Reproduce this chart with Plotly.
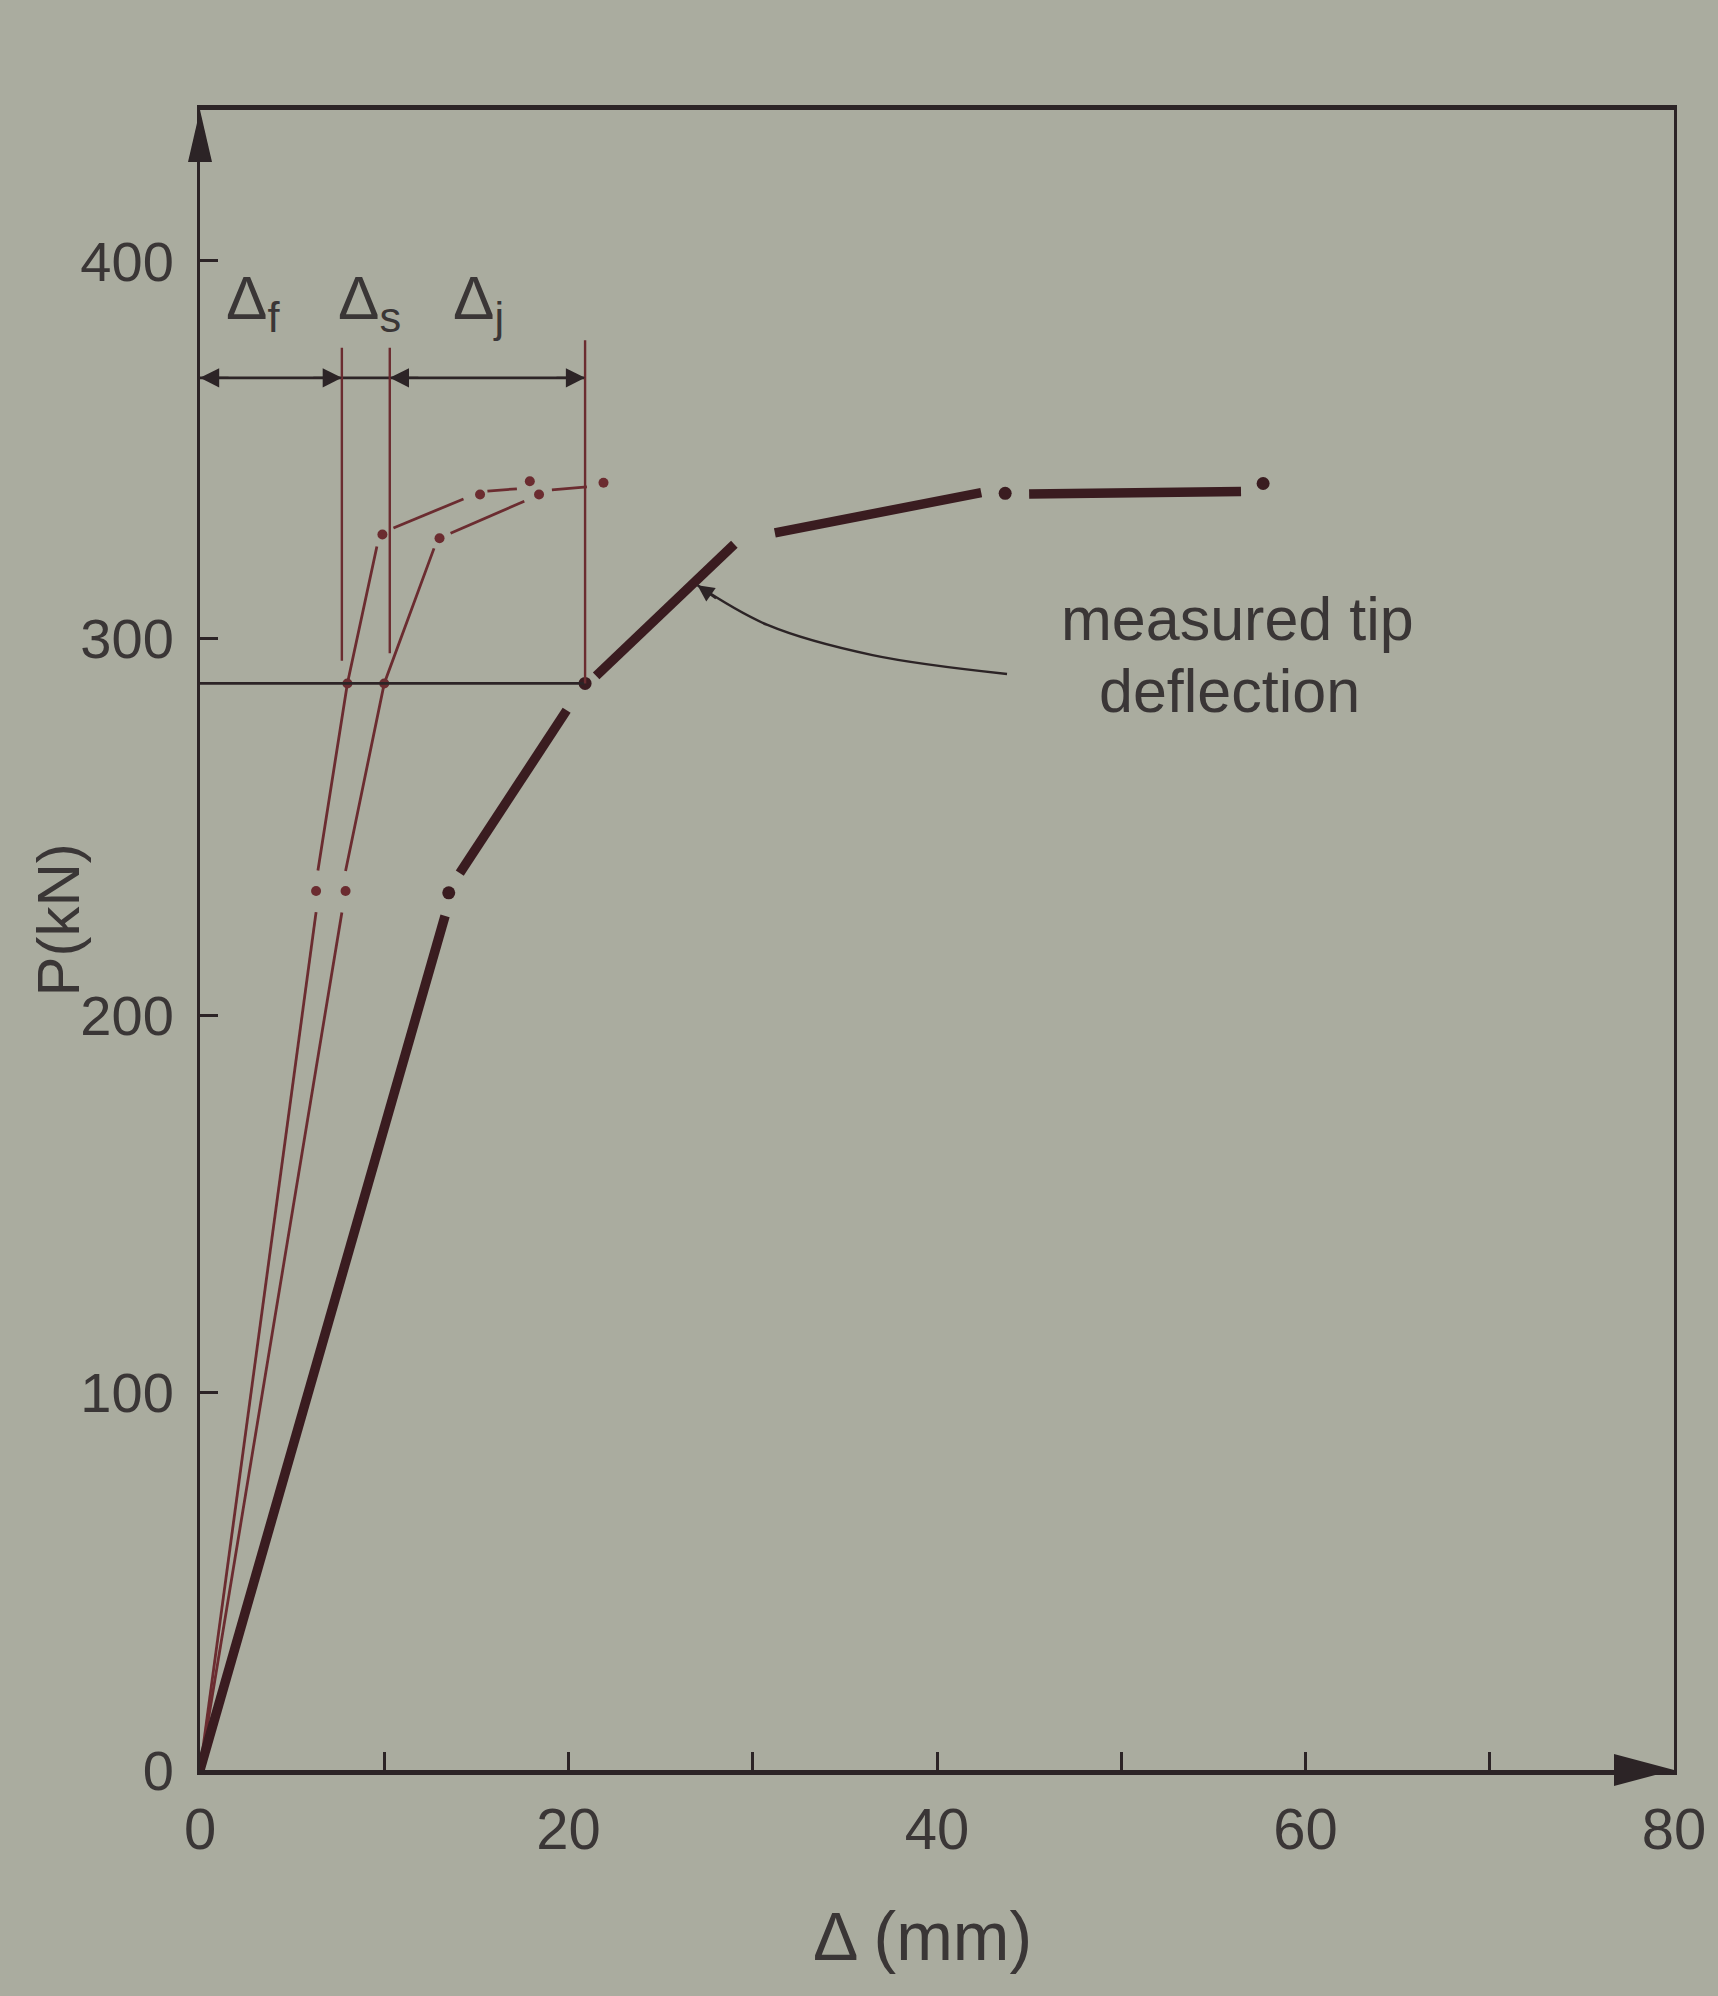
import plotly.graph_objects as go

# ---------------- data ----------------
X_RANGE = [0, 80]
Y_RANGE = [0, 440]
X_TICKS = [0, 10, 20, 30, 40, 50, 60, 70, 80]
X_TICK_TEXT = ["0", "", "20", "", "40", "", "60", "", "80"]
Y_TICKS = [0, 100, 200, 300, 400]
Y_TICK_TEXT = ["0", "100", "200", "300", "400"]

# measured tip deflection (thick broken line)
TIP_SEG_X = [[0, 13.3], [14.1, 19.9], [21.5, 29.0], [31.2, 42.4], [45.0, 56.5]]
TIP_SEG_Y = [[0, 226.4], [237.7, 280.9], [290.0, 324.9], [327.9, 338.6], [338.2, 338.9]]
TIP_DOT_X = [13.5, 20.9, 43.7, 57.7]
TIP_DOT_Y = [232.5, 288.0, 338.4, 341.0]

# flexural component curve (left thin line)
F_SEG_X = [[0, 6.3], [6.4, 8.0, 9.6], [10.5, 14.3], [15.6, 17.2]]
F_SEG_Y = [[0, 227.4], [238.4, 288.0, 324.3], [329.2, 336.9], [339.0, 339.6]]
F_DOT_X = [6.3, 8.0, 9.9, 15.2, 17.9]
F_DOT_Y = [233.0, 288.0, 327.5, 338.1, 341.6]

# flexural + shear curve (second thin line)
S_SEG_X = [[0, 7.7], [7.9, 10.0, 12.7], [13.6, 17.6], [19.1, 21.0]]
S_SEG_Y = [[0, 227.3], [238.3, 288.0, 323.8], [327.8, 336.3], [339.3, 340.1]]
S_DOT_X = [7.9, 10.0, 13.0, 18.4, 21.9]
S_DOT_Y = [233.0, 288.0, 326.5, 338.1, 341.2]

# dimensioning of the deflection components
REF_LOAD = 288.0
DIM_LOAD = 369.0
DIM_X = [0.0, 7.7, 10.3, 20.9]          # axis, Δf, Δf+Δs, Δf+Δs+Δj
DIM_LINE_BOTTOM = [None, 294.0, 296.0, 288.0]
DIM_LINE_TOP = [None, 377.0, 377.0, 379.0]
DIM_LABELS = ["Δ<sub>f</sub>", "Δ<sub>s</sub>", "Δ<sub>j</sub>"]
DIM_LABEL_X = [1.3, 7.4, 13.6]
DIM_LABEL_Y = 389.0

# leader of the "measured tip deflection" note
LEADER_X = [43.8, 36.5, 30.8, 27.0]
LEADER_Y = [290.5, 295.5, 303.5, 314.0]
NOTE_LINES = ["measured tip", "deflection"]
NOTE_X = [56.3, 55.9]
NOTE_Y = [305.0, 286.0]

# ---------------- style ----------------
BG = "#aaac9f"
INK = "#2c2426"
THICK = "#3a1c20"
THIN = "#6b2c30"
TEXT = "#3a3636"
FONT = "Liberation Sans"

fig = go.Figure()


def add_lines(seg_x, seg_y, color, width):
    for xs, ys in zip(seg_x, seg_y):
        fig.add_trace(go.Scatter(x=xs, y=ys, mode="lines",
                                 line=dict(color=color, width=width),
                                 showlegend=False, hoverinfo="skip"))


def add_dots(xs, ys, color, size):
    fig.add_trace(go.Scatter(x=xs, y=ys, mode="markers",
                             marker=dict(color=color, size=size),
                             showlegend=False, hoverinfo="skip", cliponaxis=False))


add_lines(F_SEG_X, F_SEG_Y, THIN, 2.8)
add_dots(F_DOT_X, F_DOT_Y, THIN, 10)
add_lines(S_SEG_X, S_SEG_Y, THIN, 2.8)
add_dots(S_DOT_X, S_DOT_Y, THIN, 10)
add_lines(TIP_SEG_X, TIP_SEG_Y, THICK, 9.5)
add_dots(TIP_DOT_X, TIP_DOT_Y, THICK, 13)

# horizontal reference load line
fig.add_trace(go.Scatter(x=[DIM_X[0], DIM_X[-1]], y=[REF_LOAD, REF_LOAD], mode="lines",
                         line=dict(color=INK, width=2.8), showlegend=False, hoverinfo="skip"))
# dimension line
fig.add_trace(go.Scatter(x=[DIM_X[0], DIM_X[-1]], y=[DIM_LOAD, DIM_LOAD], mode="lines",
                         line=dict(color=INK, width=2.8), showlegend=False, hoverinfo="skip"))
# extension lines
for xv, y0, y1 in zip(DIM_X[1:], DIM_LINE_BOTTOM[1:], DIM_LINE_TOP[1:]):
    fig.add_trace(go.Scatter(x=[xv, xv], y=[y0, y1], mode="lines",
                             line=dict(color=THIN, width=2.4), showlegend=False, hoverinfo="skip"))

# leader curve
fig.add_trace(go.Scatter(x=LEADER_X, y=LEADER_Y, mode="lines",
                         line=dict(color=INK, width=2.4, shape="spline", smoothing=1.0),
                         showlegend=False, hoverinfo="skip"))

annotations = []
# dimension arrowheads: pointing left at axis and Δs line, right at Δf and Δj lines
arrow_dirs = [30, -30, 30, -30]
for xv, d in zip(DIM_X, arrow_dirs):
    annotations.append(dict(x=xv, y=DIM_LOAD, ax=d, ay=0, text="", showarrow=True,
                            arrowhead=2, arrowsize=1.6, arrowwidth=2.4, arrowcolor=INK))
for lab, lx in zip(DIM_LABELS, DIM_LABEL_X):
    annotations.append(dict(x=lx, y=DIM_LABEL_Y, text=lab, showarrow=False,
                            xanchor="left", yanchor="middle",
                            font=dict(family=FONT, size=62, color=TEXT)))
# leader arrowhead
annotations.append(dict(x=LEADER_X[-1], y=LEADER_Y[-1], ax=20, ay=14, text="", showarrow=True,
                        arrowhead=2, arrowsize=1.5, arrowwidth=2.2, arrowcolor=INK))
for line, nx, ny in zip(NOTE_LINES, NOTE_X, NOTE_Y):
    annotations.append(dict(x=nx, y=ny, text=line, showarrow=False,
                            xanchor="center", yanchor="middle", borderpad=0,
                            font=dict(family=FONT, size=61, color=TEXT)))
# axis titles
annotations.append(dict(xref="paper", yref="paper", x=-0.096, y=0.512, text="P(kN)",
                        textangle=-90, showarrow=False, xanchor="center", yanchor="middle",
                        font=dict(family=FONT, size=60, color=TEXT)))
annotations.append(dict(xref="paper", yref="paper", x=0.49, y=-0.1, text="Δ (mm)",
                        showarrow=False, xanchor="center", yanchor="middle",
                        font=dict(family=FONT, size=68, color=TEXT)))

shapes = [
    # arrowhead on y axis (top end)
    dict(type="path", xref="paper", yref="paper", xsizemode="pixel", ysizemode="pixel",
         xanchor=0, yanchor=1, path="M 0 0 L -12 -52 L 12 -52 Z",
         fillcolor=INK, line=dict(width=0)),
    # arrowhead on x axis (right end)
    dict(type="path", xref="paper", yref="paper", xsizemode="pixel", ysizemode="pixel",
         xanchor=1, yanchor=0, path="M 0 0 L -60 16 L -60 -16 Z",
         fillcolor=INK, line=dict(width=0)),
]

fig.update_layout(
    width=1718, height=1996,
    margin=dict(l=200, r=38, t=110, b=226),
    paper_bgcolor=BG, plot_bgcolor=BG,
    font=dict(family=FONT, color=TEXT),
    showlegend=False,
    annotations=annotations,
    shapes=shapes,
    xaxis=dict(range=X_RANGE, tickvals=X_TICKS, ticktext=X_TICK_TEXT,
               ticks="inside", ticklen=18, tickwidth=3, tickcolor=INK,
               showline=True, linewidth=5, linecolor=INK, mirror=True,
               showgrid=False, zeroline=False, ticklabelstandoff=4,
               tickfont=dict(family=FONT, size=58, color=TEXT)),
    yaxis=dict(range=Y_RANGE, tickvals=Y_TICKS, ticktext=Y_TICK_TEXT,
               ticks="inside", ticklen=18, tickwidth=3, tickcolor=INK,
               showline=True, linewidth=3, linecolor=INK, mirror=True,
               showgrid=False, zeroline=False, ticklabelstandoff=12,
               tickfont=dict(family=FONT, size=56, color=TEXT)),
)

fig.write_html("out.html")
